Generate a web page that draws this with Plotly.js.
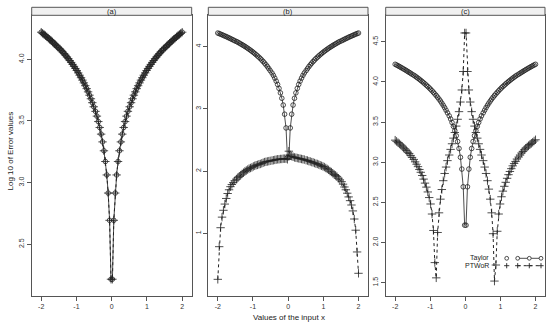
<!DOCTYPE html>
<html>
<head>
<meta charset="utf-8">
<script src="https://cdn.plot.ly/plotly-3.0.1.min.js"></script>
<style>html,body{margin:0;padding:0;background:#fff;}#chart{width:550px;height:325px;}</style>
</head>
<body>
<div id="chart"></div>
<script>
// ---------- data ----------
const xValues = [-2.00,-1.96,-1.92,-1.88,-1.84,-1.80,-1.76,-1.72,-1.68,-1.64,-1.60,-1.56,-1.52,-1.47,-1.43,-1.39,-1.35,-1.31,-1.27,-1.23,-1.19,-1.15,-1.11,-1.07,-1.03,-0.99,-0.95,-0.91,-0.87,-0.83,-0.79,-0.75,-0.71,-0.67,-0.63,-0.59,-0.55,-0.51,-0.46,-0.42,-0.38,-0.34,-0.30,-0.26,-0.22,-0.18,-0.14,-0.10,-0.06,-0.02,
  0.02,0.06,0.10,0.14,0.18,0.22,0.26,0.30,0.34,0.38,0.42,0.46,0.51,0.55,0.59,0.63,0.67,0.71,0.75,0.79,0.83,0.87,0.91,0.95,0.99,1.03,1.07,1.11,1.15,1.19,1.23,1.27,1.31,1.35,1.39,1.43,1.47,1.52,1.56,1.60,1.64,1.68,1.72,1.76,1.80,1.84,1.88,1.92,1.96,2.00];

const taylor = [4.220,4.211,4.202,4.192,4.182,4.172,4.162,4.152,4.141,4.130,4.119,4.108,4.096,4.084,4.072,4.059,4.046,4.033,4.019,4.005,3.990,3.975,3.959,3.943,3.926,3.909,3.890,3.871,3.851,3.831,3.809,3.786,3.762,3.736,3.709,3.680,3.648,3.615,3.578,3.539,3.495,3.447,3.393,3.330,3.258,3.171,3.062,2.915,2.694,2.216,
  2.216,2.694,2.915,3.062,3.171,3.258,3.330,3.393,3.447,3.495,3.539,3.578,3.615,3.648,3.680,3.709,3.736,3.762,3.786,3.809,3.831,3.851,3.871,3.890,3.909,3.926,3.943,3.959,3.975,3.990,4.005,4.019,4.033,4.046,4.059,4.072,4.084,4.096,4.108,4.119,4.130,4.141,4.152,4.162,4.172,4.182,4.192,4.202,4.211,4.220];

const ptworA = [4.220,4.211,4.202,4.192,4.182,4.172,4.162,4.152,4.141,4.130,4.119,4.108,4.096,4.084,4.072,4.059,4.046,4.033,4.019,4.005,3.990,3.975,3.959,3.943,3.926,3.909,3.890,3.871,3.851,3.831,3.809,3.786,3.762,3.736,3.709,3.680,3.648,3.615,3.578,3.539,3.495,3.447,3.393,3.330,3.258,3.171,3.062,2.915,2.694,2.216,
  2.216,2.694,2.915,3.062,3.171,3.258,3.330,3.393,3.447,3.495,3.539,3.578,3.615,3.648,3.680,3.709,3.736,3.762,3.786,3.809,3.831,3.851,3.871,3.890,3.909,3.926,3.943,3.959,3.975,3.990,4.005,4.019,4.033,4.046,4.059,4.072,4.084,4.096,4.108,4.119,4.130,4.141,4.152,4.162,4.172,4.182,4.192,4.202,4.211,4.220];

const ptworB = [0.26,0.785,1.09,1.26,1.37,1.47,1.56,1.64,1.70,1.75,1.785,1.815,1.845,1.87,1.895,1.915,1.935,1.955,1.975,1.995,2.01,2.025,2.04,2.05,2.06,2.075,2.085,2.095,2.10,2.11,2.115,2.125,2.135,2.145,2.15,2.155,2.16,2.165,2.17,2.175,2.18,2.185,2.19,2.19,2.195,2.195,2.20,2.20,2.20,2.19,
  2.32,2.26,2.24,2.23,2.22,2.215,2.21,2.205,2.20,2.195,2.19,2.185,2.175,2.17,2.16,2.155,2.145,2.14,2.13,2.12,2.115,2.105,2.095,2.085,2.075,2.065,2.05,2.035,2.02,2.00,1.985,1.965,1.945,1.93,1.91,1.885,1.86,1.83,1.79,1.745,1.70,1.645,1.585,1.525,1.455,1.36,1.23,1.05,0.70,0.357];

const ptworC = [3.275,3.26,3.245,3.23,3.215,3.20,3.18,3.165,3.145,3.125,3.11,3.085,3.06,3.035,3.005,2.975,2.945,2.91,2.875,2.835,2.79,2.74,2.69,2.63,2.56,2.48,2.355,2.15,1.75,1.56,2.125,2.37,2.54,2.66,2.77,2.86,2.94,3.02,3.09,3.16,3.23,3.30,3.37,3.45,3.535,3.63,3.75,3.90,4.13,4.61,
  4.61,4.13,3.90,3.75,3.63,3.535,3.45,3.37,3.30,3.23,3.16,3.09,3.02,2.94,2.86,2.77,2.665,2.54,2.37,2.11,1.52,1.72,2.14,2.355,2.48,2.57,2.64,2.70,2.75,2.80,2.845,2.885,2.92,2.955,2.985,3.01,3.04,3.065,3.09,3.115,3.135,3.155,3.175,3.19,3.205,3.22,3.235,3.25,3.265,3.28];

const panelLabels = ['(a)','(b)','(c)'];
const seriesNames = ['Taylor','PTWoR'];
const xTickVals = [-2,-1,0,1,2];
const xTickText = ['-2','-1','0','1','2'];
const yTickValsA = [2.5,3.0,3.5,4.0];
const yTickTextA = ['2.5','3.0','3.5','4.0'];
const yTickValsB = [1,2,3,4];
const yTickTextB = ['1','2','3','4'];
const yTickValsC = [1.5,2.0,2.5,3.0,3.5,4.0,4.5];
const yTickTextC = ['1.5','2.0','2.5','3.0','3.5','4.0','4.5'];

// ---------- styling ----------
const W = 550, H = 325;
const px = v => v / W;
const py = v => 1 - v / H;
const FONT = 'Liberation Sans, Arial, Helvetica, sans-serif';
const INK = '#222';
const FRAME = '#555';

const xDomains = [[px(31.7), px(191.7)], [px(208.3), px(368)], [px(385.7), px(545)]];
const yDomain = [py(296), py(15.3)];

function taylorTrace(y, xa, ya) {
  return {x: xValues, y: y, xaxis: xa, yaxis: ya, name: seriesNames[0], type: 'scatter',
    mode: 'lines+markers', line: {color: INK, width: 0.8},
    marker: {symbol: 'circle-open', size: 4.6, color: INK, line: {width: 0.8, color: INK}},
    showlegend: false, hoverinfo: 'skip'};
}
function ptworTrace(y, xa, ya) {
  return {x: xValues, y: y, xaxis: xa, yaxis: ya, name: seriesNames[1], type: 'scatter',
    mode: 'lines+markers', line: {color: INK, width: 1, dash: 'dot'},
    marker: {symbol: 'cross-thin-open', size: 6, color: INK, line: {width: 0.8, color: INK}},
    showlegend: false, hoverinfo: 'skip'};
}

const data = [
  taylorTrace(taylor, 'x', 'y'), ptworTrace(ptworA, 'x', 'y'),
  taylorTrace(taylor, 'x2', 'y2'), ptworTrace(ptworB, 'x2', 'y2'),
  taylorTrace(taylor, 'x3', 'y3'), ptworTrace(ptworC, 'x3', 'y3')
];

function xAxis(i, anchor) {
  return {domain: xDomains[i], anchor: anchor, range: [-2.27, 2.27], tickvals: xTickVals, ticktext: xTickText,
    ticks: 'outside', ticklen: 4, tickwidth: 1, tickcolor: FRAME, showline: true, mirror: true,
    linecolor: FRAME, linewidth: 1, showgrid: false, zeroline: false,
    tickfont: {family: FONT, size: 7, color: '#333'}};
}
function yAxis(anchor, range, vals, text) {
  return {domain: yDomain, anchor: anchor, range: range, tickvals: vals, ticktext: text, tickangle: -90,
    ticks: 'outside', ticklen: 4, tickwidth: 1, tickcolor: FRAME, showline: true, mirror: true,
    linecolor: FRAME, linewidth: 1, showgrid: false, zeroline: false,
    tickfont: {family: FONT, size: 7, color: '#333'}};
}

const shapes = [];
const annotations = [];
// strips
for (let i = 0; i < 3; i++) {
  shapes.push({type: 'rect', xref: 'paper', yref: 'paper', x0: xDomains[i][0], x1: xDomains[i][1],
    y0: py(15.3), y1: py(7.3), fillcolor: '#f0f0f0', line: {color: FRAME, width: 1}, layer: 'above'});
  annotations.push({xref: 'paper', yref: 'paper', x: (xDomains[i][0] + xDomains[i][1]) / 2, y: py(11.3),
    text: panelLabels[i], showarrow: false, xanchor: 'center', yanchor: 'middle',
    font: {family: FONT, size: 7.5, color: '#222'}});
}
// axis titles
annotations.push({xref: 'paper', yref: 'paper', x: px(9.5), y: py(151), text: 'Log 10 of Error values',
  textangle: -90, showarrow: false, xanchor: 'center', yanchor: 'middle', font: {family: FONT, size: 8, color: '#222'}});
annotations.push({xref: 'paper', yref: 'paper', x: px(288.5), y: py(317.5), text: 'Values of the input x',
  showarrow: false, xanchor: 'center', yanchor: 'middle', font: {family: FONT, size: 8, color: '#222'}});

// key (legend) drawn in the bottom-right of panel (c)
const keyRows = [258.3, 265.7];
const keyX = [506.7, 517.7, 529.3, 541];
annotations.push({xref: 'paper', yref: 'paper', x: px(490), y: py(keyRows[0]), text: seriesNames[0],
  showarrow: false, xanchor: 'right', yanchor: 'middle', borderpad: 0, font: {family: FONT, size: 7, color: '#222'}});
annotations.push({xref: 'paper', yref: 'paper', x: px(490), y: py(keyRows[1]), text: seriesNames[1],
  showarrow: false, xanchor: 'right', yanchor: 'middle', borderpad: 0, font: {family: FONT, size: 7, color: '#222'}});
shapes.push({type: 'line', xref: 'paper', yref: 'paper', x0: px(keyX[1]), x1: px(keyX[3]), y0: py(keyRows[0]), y1: py(keyRows[0]), line: {color: INK, width: 0.8}});
shapes.push({type: 'line', xref: 'paper', yref: 'paper', x0: px(keyX[1]), x1: px(keyX[3]), y0: py(keyRows[1]), y1: py(keyRows[1]), line: {color: INK, width: 1, dash: 'dot'}});
keyX.forEach(cx => {
  const r = 1.9, cy = keyRows[0];
  shapes.push({type: 'circle', xref: 'paper', yref: 'paper', x0: px(cx - r), x1: px(cx + r), y0: py(cy + r), y1: py(cy - r),
    fillcolor: '#fff', line: {color: INK, width: 0.8}});
  const s = 2.6, cy2 = keyRows[1];
  shapes.push({type: 'line', xref: 'paper', yref: 'paper', x0: px(cx - s), x1: px(cx + s), y0: py(cy2), y1: py(cy2), line: {color: INK, width: 0.9}});
  shapes.push({type: 'line', xref: 'paper', yref: 'paper', x0: px(cx), x1: px(cx), y0: py(cy2 - s), y1: py(cy2 + s), line: {color: INK, width: 0.9}});
});

const layout = {
  width: W, height: H, margin: {l: 0, r: 0, t: 0, b: 0},
  paper_bgcolor: '#fff', plot_bgcolor: '#fff', showlegend: false,
  font: {family: FONT, color: '#222'},
  xaxis: xAxis(0, 'y'), xaxis2: xAxis(1, 'y2'), xaxis3: xAxis(2, 'y3'),
  yaxis: yAxis('x', [2.08, 4.357], yTickValsA, yTickTextA),
  yaxis2: yAxis('x2', [-0.008, 4.505], yTickValsB, yTickTextB),
  yaxis3: yAxis('x3', [1.334, 4.83], yTickValsC, yTickTextC),
  shapes: shapes, annotations: annotations
};

Plotly.newPlot('chart', data, layout, {staticPlot: true, displayModeBar: false});
</script>
</body>
</html>
